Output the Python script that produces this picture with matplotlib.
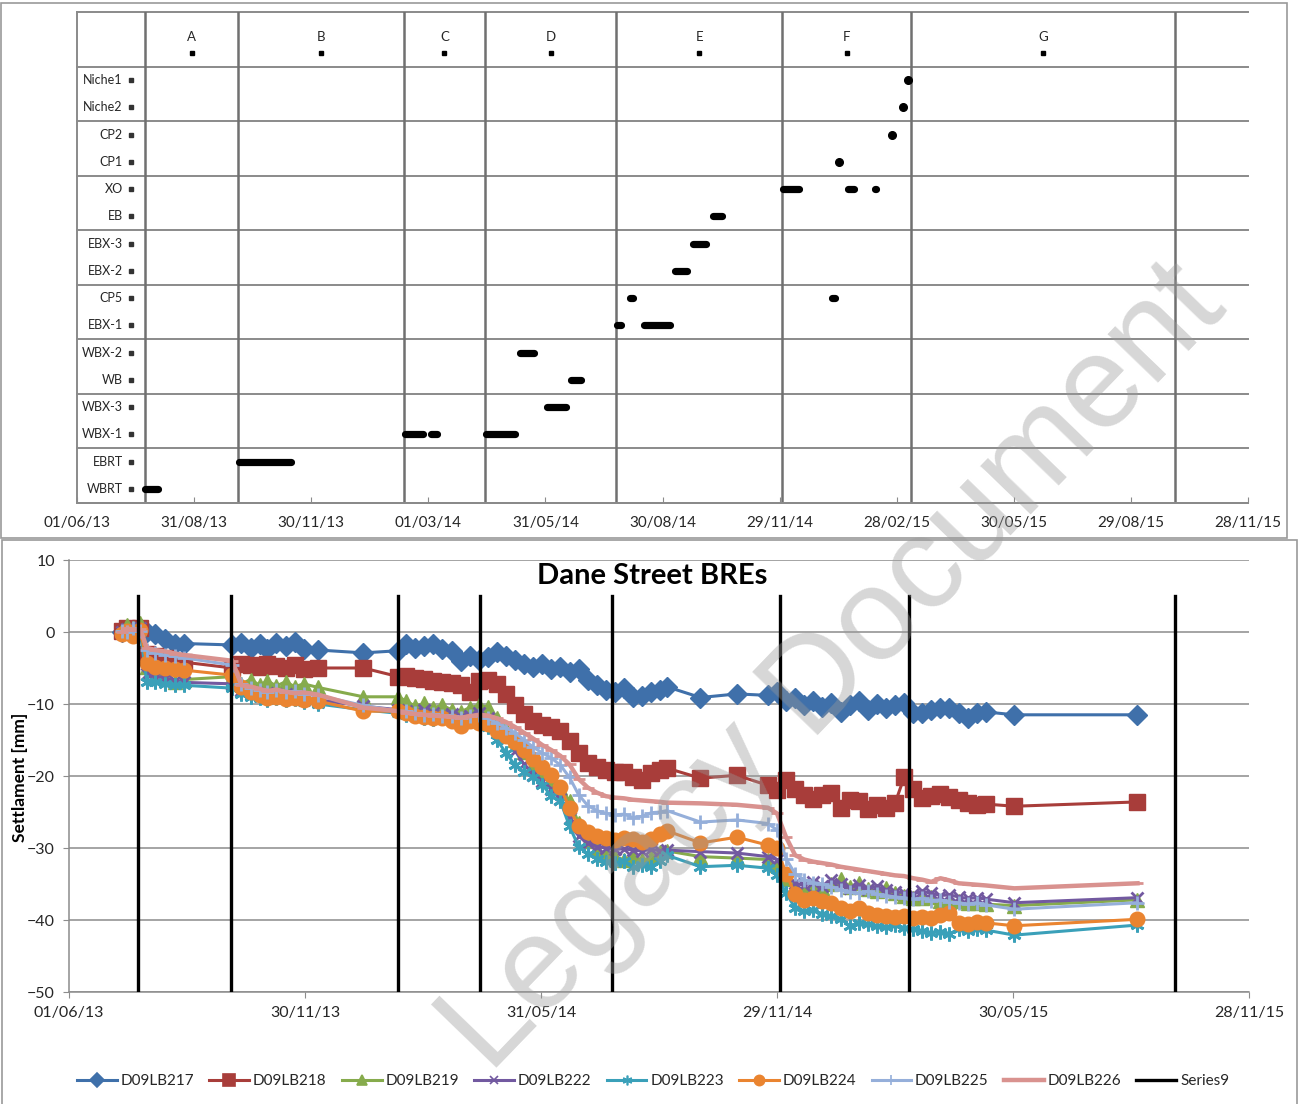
import matplotlib
matplotlib.use("Agg")
import matplotlib.pyplot as plt
import matplotlib.dates as mdates
import pandas as pd
from matplotlib.patches import Rectangle
from matplotlib.lines import Line2D

plt.rcParams['font.family'] = ['Lato', 'DejaVu Sans']

W, H, DPI = 1299, 1104, 100

# ---------------------------------------------------------------- phases
phase_names = ['A', 'B', 'C', 'D', 'E', 'F', 'G']
phase_bounds = ['2013-07-24', '2013-10-04', '2014-02-10', '2014-04-14',
                '2014-07-25', '2014-12-01', '2015-03-11', '2015-10-02']

# ---------------------------------------------------------------- activities (bottom row first)
activities = ['WBRT', 'EBRT', 'WBX-1', 'WBX-3', 'WB', 'WBX-2', 'EBX-1', 'CP5',
              'EBX-2', 'EBX-3', 'EB', 'XO', 'CP1', 'CP2', 'Niche2', 'Niche1']
label_anchor_date = '2013-07-13'

seg_activity = ['WBRT', 'EBRT', 'WBX-1', 'WBX-1', 'WBX-1', 'WBX-3', 'WB', 'WBX-2',
                'EBX-1', 'EBX-1', 'CP5', 'CP5', 'EBX-2', 'EBX-3', 'EB',
                'XO', 'XO', 'XO', 'CP1', 'CP2', 'Niche2', 'Niche1']
seg_start = ['2013-07-24', '2013-10-05', '2014-02-11', '2014-03-03', '2014-04-15',
             '2014-06-01', '2014-06-20', '2014-05-11', '2014-07-26', '2014-08-16',
             '2014-08-05', '2015-01-09', '2014-09-09', '2014-09-23', '2014-10-08',
             '2014-12-02', '2015-01-21', '2015-02-11', '2015-01-14', '2015-02-24',
             '2015-03-05', '2015-03-09']
seg_end = ['2013-08-03', '2013-11-14', '2014-02-25', '2014-03-08', '2014-05-07',
           '2014-06-16', '2014-06-28', '2014-05-22', '2014-07-29', '2014-09-05',
           '2014-08-07', '2015-01-11', '2014-09-18', '2014-10-03', '2014-10-15',
           '2014-12-14', '2015-01-26', '2015-02-12', '2015-01-14', '2015-02-24',
           '2015-03-05', '2015-03-09']

# ---------------------------------------------------------------- settlement monitoring
survey_dates = [
    '2013-07-12', '2013-07-16', '2013-07-20', '2013-07-26', '2013-07-31', '2013-08-06', '2013-08-14', '2013-08-22', '2013-08-29',
    '2013-10-05', '2013-10-12', '2013-10-19', '2013-10-26', '2013-11-01', '2013-11-08', '2013-11-15', '2013-11-22', '2013-11-29',
    '2013-12-10', '2014-01-14', '2014-02-10', '2014-02-16', '2014-02-23', '2014-03-02', '2014-03-09', '2014-03-16', '2014-03-23', '2014-03-30',
    '2014-04-06', '2014-04-13', '2014-04-20', '2014-04-27', '2014-05-04', '2014-05-11', '2014-05-18', '2014-05-25', '2014-06-01', '2014-06-08',
    '2014-06-15', '2014-06-22', '2014-06-29', '2014-07-06', '2014-07-13', '2014-07-20', '2014-07-27', '2014-08-03', '2014-08-10', '2014-08-17',
    '2014-08-24', '2014-08-31', '2014-09-05', '2014-10-01', '2014-10-29', '2014-11-22', '2014-11-29', '2014-12-06', '2014-12-13', '2014-12-20',
    '2014-12-27', '2015-01-03', '2015-01-10', '2015-01-17', '2015-01-24', '2015-01-31', '2015-02-07', '2015-02-14', '2015-02-21', '2015-02-28',
    '2015-03-07', '2015-03-14', '2015-03-21', '2015-03-28', '2015-04-04', '2015-04-11', '2015-04-18', '2015-04-25', '2015-05-02', '2015-05-09',
    '2015-05-31', '2015-09-03']

D09LB217 = [0.0, 0.3, 0.2, 0.5, 0.0, -0.3, -1.0, -1.7, -1.6,
            -1.8, -1.5, -2.2, -1.6, -2.3, -1.5, -2.0, -1.4, -2.4,
            -2.5, -2.9, -2.6, -1.6, -2.2, -1.9, -1.6, -2.4, -2.6, -4.0,
            -3.4, -3.9, -3.5, -2.8, -3.4, -3.9, -4.4, -4.9, -4.5, -5.2,
            -4.8, -5.6, -5.2, -6.7, -7.4, -8.0, -8.3, -7.8, -9.0, -8.9,
            -8.4, -8.0, -7.6, -9.1, -8.6, -8.8, -8.4, -9.6, -9.2, -10.1,
            -9.6, -10.4, -9.8, -11.1, -10.2, -9.6, -10.9, -10.0, -10.6, -10.2,
            -9.9, -11.2, -11.3, -10.9, -10.6, -10.5, -11.2, -11.9, -11.3, -11.1,
            -11.5, -11.5]
D09LB218 = [0.2, 0.6, 0.3, 0.5, -3.0, -3.3, -3.6, -4.0, -4.2,
            -5.0, -4.4, -4.6, -4.8, -4.5, -4.7, -5.0, -4.6, -5.2,
            -5.0, -5.0, -6.2, -6.1, -6.4, -6.5, -6.8, -6.9, -7.1, -7.3,
            -8.4, -6.8, -6.6, -7.2, -8.6, -10.2, -11.4, -12.3, -12.9, -13.2,
            -13.8, -15.2, -16.8, -18.2, -18.8, -19.2, -19.5, -19.4, -20.2, -20.6,
            -19.6, -19.2, -18.9, -20.3, -19.9, -21.3, -21.9, -20.6, -21.8, -22.7,
            -23.2, -22.6, -22.3, -24.5, -23.4, -23.5, -24.6, -24.0, -24.4, -23.8,
            -20.2, -21.8, -23.0, -22.8, -22.5, -22.9, -23.3, -23.8, -24.0, -23.9,
            -24.2, -23.6]
D09LB219 = [0.3, 1.0, 0.6, 1.3, -4.8, -5.3, -6.2, -7.0, -6.6,
            -6.2, -7.2, -6.6, -7.4, -6.8, -7.5, -6.9, -7.6, -7.2,
            -7.7, -9.0, -9.0, -9.6, -10.3, -9.9, -10.5, -10.2, -10.8, -11.1,
            -10.5, -10.2, -10.4, -12.0, -13.5, -15.0, -16.6, -18.5, -19.6, -20.6,
            -21.6, -23.5, -26.5, -29.0, -30.2, -31.0, -31.3, -31.6, -31.1, -31.7,
            -31.3, -30.6, -30.4, -31.2, -31.4, -31.6, -32.3, -34.3, -35.5, -35.8,
            -35.3, -35.6, -35.0, -34.3, -35.4, -34.9, -35.7, -36.0, -35.6, -36.2,
            -36.6, -36.9, -37.0, -36.8, -37.3, -37.5, -37.4, -37.7, -37.6, -37.8,
            -38.0, -37.2]
D09LB222 = [0.0, 0.4, 0.2, 0.6, -5.8, -6.2, -6.4, -6.8, -7.0,
            -7.2, -8.0, -8.4, -8.7, -8.5, -8.9, -8.6, -9.0, -9.2,
            -9.4, -10.3, -10.8, -11.0, -11.2, -10.9, -11.3, -11.5, -11.4, -11.8,
            -11.6, -11.2, -12.0, -13.2, -14.6, -16.5, -18.4, -19.8, -20.7, -21.8,
            -23.2, -25.8, -28.3, -29.3, -29.8, -30.0, -30.2, -30.1, -30.3, -30.4,
            -30.2, -30.4, -30.3, -30.5, -30.7, -31.2, -31.6, -33.6, -34.9, -35.2,
            -34.7, -35.3, -34.4, -35.0, -35.5, -35.2, -35.7, -35.3, -35.9, -36.1,
            -36.2, -36.4, -36.0, -36.3, -36.6, -36.5, -36.8, -37.0, -36.9, -37.1,
            -37.6, -36.9]
D09LB223 = [-0.2, -0.1, -0.3, 0.0, -6.9, -7.0, -7.2, -7.4, -7.4,
            -7.8, -8.6, -9.0, -9.2, -9.4, -9.1, -9.5, -9.3, -9.7,
            -10.0, -10.8, -11.3, -11.5, -11.7, -11.9, -12.1, -12.0, -12.3, -12.5,
            -12.2, -12.0, -13.2, -15.0, -16.8, -18.5, -19.5, -20.2, -21.2, -22.8,
            -23.5, -27.0, -29.8, -30.8, -31.5, -31.9, -32.1, -31.8, -32.6, -32.4,
            -32.6, -31.8, -31.0, -32.6, -32.4, -32.8, -33.8, -36.3, -38.3, -38.8,
            -38.6, -39.2, -39.5, -39.8, -40.8, -40.4, -40.6, -40.9, -41.0, -40.7,
            -41.1, -41.3, -41.5, -41.8, -41.6, -41.9, -41.3, -41.5, -41.2, -41.4,
            -42.1, -40.7]
D09LB224 = [-0.3, 0.2, -0.5, 0.3, -4.3, -4.8, -5.0, -5.2, -5.3,
            -6.0, -7.6, -8.4, -8.8, -9.2, -9.0, -9.3, -9.1, -9.5,
            -9.6, -11.0, -11.0, -11.3, -11.6, -11.8, -12.0, -11.9, -12.4, -13.0,
            -12.3, -12.6, -12.8, -13.8, -14.4, -15.3, -16.4, -17.6, -18.7, -19.8,
            -21.5, -24.5, -27.0, -27.8, -28.3, -28.6, -28.9, -28.6, -28.8, -29.2,
            -28.8, -28.0, -27.6, -29.3, -28.5, -29.6, -30.0, -33.6, -36.4, -37.2,
            -37.0, -37.4, -37.6, -38.4, -38.7, -38.4, -39.0, -39.3, -39.4, -39.6,
            -39.5, -39.7, -39.6, -39.7, -39.3, -39.0, -40.4, -40.5, -40.3, -40.4,
            -40.8, -39.9]
D09LB225 = [0.2, 0.0, 0.5, 0.2, -2.5, -2.9, -3.2, -3.4, -3.6,
            -4.6, -7.2, -7.8, -8.0, -8.3, -8.1, -8.4, -8.2, -8.6,
            -8.8, -10.2, -11.0, -11.0, -11.3, -11.5, -11.4, -11.7, -11.6, -11.9,
            -11.7, -11.5, -12.0, -12.6, -13.3, -14.0, -15.0, -16.0, -16.8, -17.5,
            -18.5, -20.2, -22.6, -24.1, -24.8, -25.2, -25.4, -25.3, -25.8, -25.6,
            -25.1, -25.0, -24.8, -26.4, -26.1, -26.6, -27.5, -31.5, -33.6, -34.4,
            -34.8, -35.0, -35.4, -35.8, -36.1, -36.3, -36.0, -36.4, -36.6, -36.8,
            -36.9, -37.1, -37.0, -37.3, -37.2, -37.5, -37.6, -37.8, -37.6, -37.9,
            -38.5, -37.6]
D09LB226 = [0.0, 0.5, 0.3, 0.4, -2.2, -2.5, -2.7, -3.0, -3.2,
            -4.0, -7.4, -7.6, -7.9, -8.2, -8.0, -8.3, -8.5, -8.4,
            -8.7, -10.5, -11.0, -11.2, -11.4, -11.5, -11.6, -11.7, -11.8, -11.9,
            -11.7, -11.5, -11.6, -12.0, -12.5, -13.2, -14.0, -14.8, -15.7, -16.4,
            -17.2, -18.4, -20.4, -21.6, -22.3, -22.8, -23.0, -23.1, -23.3, -23.4,
            -23.5, -23.6, -23.7, -23.8, -24.0, -24.4, -25.2, -28.5, -31.0, -31.6,
            -31.9, -32.1, -32.3, -32.6, -32.8, -33.0, -33.2, -33.4, -33.6, -33.8,
            -33.9, -34.2, -34.4, -34.7, -34.2, -34.5, -34.9, -35.0, -35.1, -35.2,
            -35.6, -34.9]

series9_top, series9_bottom = 5, -50

series_names = ['D09LB217', 'D09LB218', 'D09LB219', 'D09LB222',
                'D09LB223', 'D09LB224', 'D09LB225', 'D09LB226']
series_values = [D09LB217, D09LB218, D09LB219, D09LB222,
                 D09LB223, D09LB224, D09LB225, D09LB226]
series_colors = ['#3f70aa', '#a83d3a', '#86ab4c', '#7259a0',
                 '#3aa0b9', '#ea8430', '#95afda', '#d9928f']
series_markers = ['D', 's', '^', 'x', (6, 2, 0), 'o', '+', '_']
series_msize = [10, 11.5, 9.5, 8, 10, 10.5, 10, 9]

# ---------------------------------------------------------------- figure
fig = plt.figure(figsize=(W / DPI, H / DPI), dpi=DPI)


def fx(px):
    return px / W


def fy(py):
    return 1 - py / H


date_min = mdates.date2num(pd.Timestamp('2013-06-01'))
date_max = mdates.date2num(pd.Timestamp('2015-11-28'))
to_num = lambda s: mdates.date2num(pd.to_datetime(s))
date_fmt = mdates.DateFormatter('%d/%m/%y')
grey_txt = '#262626'

# ---------------- programme panel
ax1 = fig.add_axes([fx(77), fy(502.6), fx(1248) - fx(77), fy(12) - fy(502.6)])
ax1.set_xlim(date_min, date_max)
ax1.set_ylim(0.5, 18.5)
for y in range(1, 19, 2):
    ax1.axhline(y - 0.5, color='#8a8a8a', lw=1.4, clip_on=False, zorder=1)
ax1.axhline(18.5, color='#8a8a8a', lw=1.4, clip_on=False, zorder=1)
bounds_num = to_num(phase_bounds)
for b in bounds_num:
    ax1.axvline(b, color='#707070', lw=1.8, zorder=1)

row_of = {name: i + 1 for i, name in enumerate(activities)}
for act, s, e in zip(seg_activity, seg_start, seg_end):
    y = row_of[act]
    xs, xe = to_num(s), to_num(e)
    if xs == xe:
        ax1.plot([xs], [y], 'o', color='black', ms=5.5, zorder=3)
    else:
        ax1.plot([xs, xe], [y, y], color='black', lw=5.2,
                 solid_capstyle='round', zorder=3)

anchor = to_num(label_anchor_date)
for name, y in row_of.items():
    ax1.plot([anchor], [y], 's', color='#333333', ms=2.4, zorder=3)
    ax1.annotate(name, (anchor, y), xytext=(-6, 0), textcoords='offset points',
                 ha='right', va='center', fontsize=9, color=grey_txt)

mids = [(a + b) / 2 for a, b in zip(bounds_num[:-1], bounds_num[1:])]
for name, m in zip(phase_names, mids):
    ax1.plot([m], [17], 's', color='black', ms=3.5, zorder=3)
    ax1.annotate(name, (m, 17), xytext=(0, 11.5), textcoords='offset points',
                 ha='center', va='center', fontsize=9.5, color=grey_txt)

ax1.set_xticks(pd.date_range('2013-06-01', periods=11, freq='91D'))
ax1.xaxis.set_major_formatter(date_fmt)
ax1.tick_params(axis='x', direction='in', length=4, color='#8a8a8a',
                labelsize=11, pad=10, labelcolor=grey_txt)
ax1.set_yticks([])
for side in ['top', 'right']:
    ax1.spines[side].set_visible(False)
for side in ['left', 'bottom']:
    ax1.spines[side].set_color('#8a8a8a')
    ax1.spines[side].set_linewidth(1.4)

# ---------------- settlement panel
ax2 = fig.add_axes([fx(69), fy(992), fx(1249) - fx(69), fy(560) - fy(992)])
ax2.set_xlim(date_min, date_max)
ax2.set_ylim(-50, 10)
ax2.set_yticks(range(-50, 11, 10))
ax2.yaxis.grid(True, color='#8c8c8c', lw=1.1)
ax2.set_axisbelow(True)

sd = to_num(survey_dates)
handles = []
for name, vals, col, mk, ms in zip(series_names, series_values, series_colors,
                                   series_markers, series_msize):
    lw = 3.2 if mk == '_' else 2.2
    ax2.plot(sd, vals, color=col, lw=lw, marker=mk, ms=ms, mfc=col, mec=col,
             mew=2.0 if mk in ('x', '+', '_', (6, 2, 0)) else 1.0, zorder=3)
    handles.append(Line2D([], [], color=col, lw=lw, marker=mk, ms=ms * 0.7,
                          mfc=col, mec=col, mew=1.2))

for b in bounds_num:
    ax2.plot([b, b], [series9_top, series9_bottom], color='black', lw=2.4, zorder=4)
handles.append(Line2D([], [], color='black', lw=2.4))

ax2.set_xticks(pd.date_range('2013-06-01', periods=6, freq='182D'))
ax2.xaxis.set_major_formatter(date_fmt)
ax2.tick_params(axis='both', direction='out', length=4, color='#8c8c8c',
                labelsize=11.5, pad=6, labelcolor=grey_txt)
for side in ['top', 'right']:
    ax2.spines[side].set_visible(False)
for side in ['left', 'bottom']:
    ax2.spines[side].set_color('#8c8c8c')
    ax2.spines[side].set_linewidth(1.1)

fig.text(fx(652), fy(576), 'Dane Street BREs', ha='center', va='center',
         fontsize=21, fontweight='bold', color='black')
fig.text(fx(20), fy(777), 'Settlament [mm]', ha='center', va='center',
         rotation=90, fontsize=12.5, fontweight='bold', color='black')

fig.legend(handles, series_names + ['Series9'], loc='center',
           bbox_to_anchor=(fx(653), fy(1081)), ncol=9, frameon=False,
           fontsize=11, handlelength=2.6, handletextpad=0.25,
           columnspacing=1.0, labelcolor=grey_txt)

# panel frames
fig.add_artist(Rectangle((fx(1), fy(538)), fx(1287) - fx(1), fy(3) - fy(538),
                         transform=fig.transFigure, fill=False,
                         ec='#9a9a9a', lw=1.2))
fig.add_artist(Rectangle((fx(2), fy(1110)), fx(1297) - fx(2), fy(540) - fy(1110),
                         transform=fig.transFigure, fill=False,
                         ec='#9a9a9a', lw=1.2, clip_on=False))

# watermark
fig.text(fx(834), fy(668), 'Legacy Document', ha='center', va='center',
         rotation=46, fontsize=95, family='Liberation Sans',
         color='#9a9a9a', alpha=0.4, zorder=10)

fig.savefig('out.png', dpi=DPI)
